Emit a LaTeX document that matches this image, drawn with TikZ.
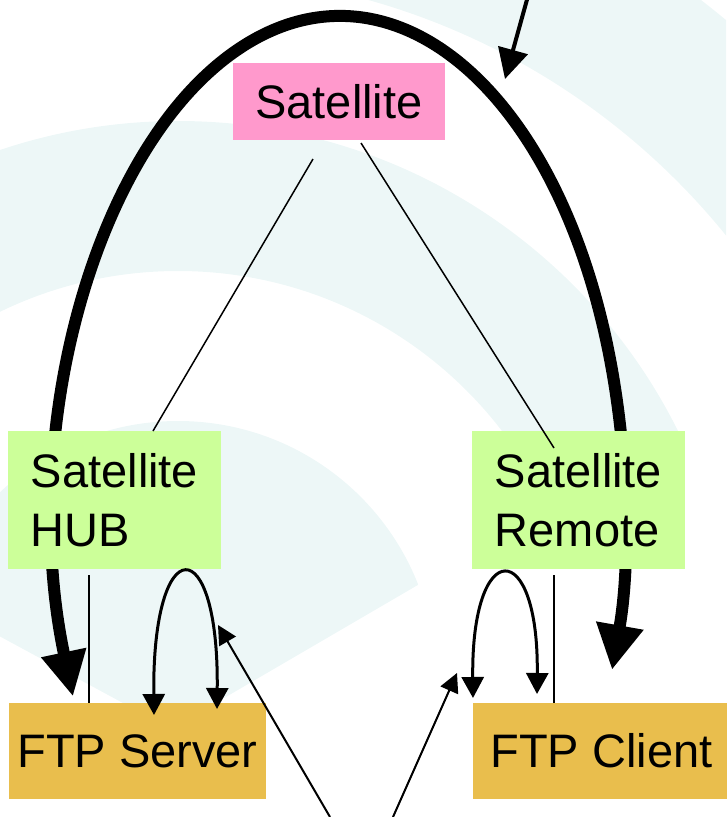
\documentclass[tikz,border=0pt]{standalone}
\usepackage{fontspec}
\setmainfont{Liberation Sans}
\usetikzlibrary{arrows.meta}

\definecolor{satpink}{RGB}{255,153,204}
\definecolor{hubgreen}{RGB}{204,255,153}
\definecolor{ftpgold}{RGB}{233,190,77}
\definecolor{wave}{RGB}{237,247,247}

\pgfdeclarelayer{waves}
\pgfdeclarelayer{behind}
\pgfsetlayers{waves,behind,main}

\tikzset{
  unitbox/.style={draw=none, inner sep=0pt, outer sep=0pt, text=black,
    font=\fontsize{47}{59}\selectfont},
  bigarc/.style={line width=12pt, draw=black,
    {Triangle[width=43pt,length=45pt]}-{Triangle[width=45pt,length=45pt]}},
  backforth/.style={line width=3pt, draw=black,
    {Triangle[width=22pt,length=21pt]}-{Triangle[width=22pt,length=21pt]}},
  thinline/.style={line width=1.5pt, draw=black},
  pointer/.style={line width=2pt, draw=black, -{Triangle[width=19pt,length=19pt]}},
}

\begin{document}
\begin{tikzpicture}[x=1pt,y=-1pt]
\useasboundingbox (0,0) rectangle (726,817);

% boxes
\node[unitbox, fill=satpink, minimum width=212pt, minimum height=77pt] (sat) at (339,101.5) {Satellite};
\node[unitbox, fill=hubgreen, minimum width=213pt, minimum height=138pt, align=left] (hub) at (114.5,500) {Satellite\\HUB};
\node[unitbox, fill=hubgreen, minimum width=213pt, minimum height=138pt, align=left] (remote) at (578.5,500) {Satellite\\Remote};
\node[unitbox, fill=ftpgold, minimum width=257pt, minimum height=96pt] (server) at (137.5,751) {FTP Server};
\node[unitbox, fill=ftpgold, minimum width=257pt, minimum height=96pt] (client) at (601.5,751) {FTP Client};

% faint concentric bands in the background
\begin{pgfonlayer}{waves}
  \begin{scope}
    \clip (0,0) rectangle (726,817);
    \clip (171,729) -- (-60,604) -- (-60,-120) -- (800,-120) -- (800,362) -- cycle;
    \fill[wave, even odd rule] (178,679) circle[radius=857] (178,679) circle[radius=705];
    \fill[wave, even odd rule] (178,679) circle[radius=558] (178,679) circle[radius=408];
    \fill[wave] (178,679) circle[radius=258];
  \end{scope}
\end{pgfonlayer}

% satellite hop, passing behind the ground stations
\begin{pgfonlayer}{behind}
  \draw[bigarc] ([xshift=-64.5pt,yshift=6.5pt]server.north)
    arc[start angle=159.5, end angle=377.3, x radius=285, y radius=504];
\end{pgfonlayer}

% links
\draw[thinline] ([xshift=-26pt,yshift=-19pt]sat.south) -- ([xshift=38.5pt]hub.north);
\draw[thinline] ([xshift=22pt,yshift=-3pt]sat.south) -- ([xshift=-24.5pt,yshift=-17pt]remote.north);
\draw[thinline] ([xshift=-25.5pt,yshift=-6pt]hub.south) -- ([xshift=-48.5pt]server.north);
\draw[thinline] ([xshift=-24.5pt,yshift=-6pt]remote.south) -- ([xshift=-47.5pt]client.north);

% local loops
\draw[backforth] ([xshift=16.5pt,yshift=-12pt]server.north)
  .. controls +(-2,-186) and +(2,-180) .. ([xshift=79.5pt,yshift=-6pt]server.north);
\draw[backforth] ([xshift=-128.5pt,yshift=5pt]client.north)
  .. controls +(-2,-162) and +(2,-158) .. ([xshift=-64.5pt,yshift=9pt]client.north);

% pointers
\coordinate (ptrtop) at (528,-4);
\coordinate (ptrtip) at (505,79);
\draw[pointer, line width=4pt, -{Triangle[width=30pt,length=30pt]}] (ptrtop) -- (ptrtip);
\coordinate (ptrA) at (330,817);
\coordinate (tipA) at (218,625);
\coordinate (ptrB) at (393,817);
\coordinate (tipB) at (457,673);
\draw[pointer] (ptrA) -- (tipA);
\draw[pointer] (ptrB) -- (tipB);
\end{tikzpicture}
\end{document}
